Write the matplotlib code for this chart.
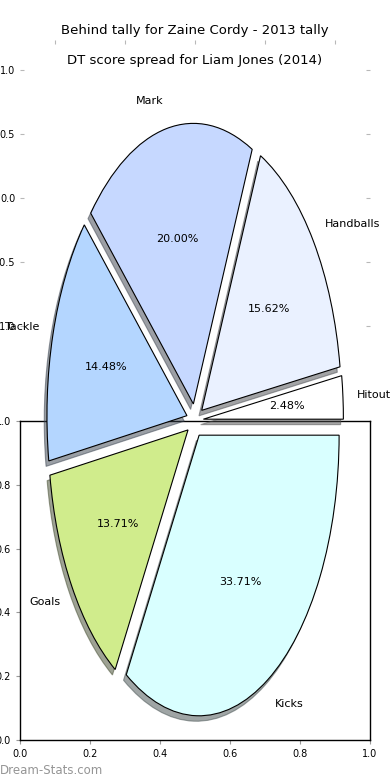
import matplotlib
matplotlib.use("Agg")
import matplotlib.pyplot as plt
import numpy as np

# data
labels = ['Hitout', 'Handballs', 'Mark', 'Tackle', 'Goals', 'Kicks']
shares = [2.48, 15.62, 20.00, 14.48, 13.71, 33.71]
colours = ['#ffffff', '#eaf1ff', '#c6d8ff', '#b4d6ff', '#d0ec8c', '#d9ffff']
explode = [0.06] * len(labels)

back_title = 'Behind tally for Zaine Cordy - 2013 tally'
pie_title = 'DT score spread for Liam Jones (2014)'
half_ticks = [-1.0, -0.5, 0.0, 0.5, 1.0]
unit_ticks = [0.0, 0.2, 0.4, 0.6, 0.8, 1.0]

W, H = 390, 780


def box(l, t, r, b):
    # pixel box -> figure fraction rect
    return [l / W, 1 - b / H, (r - l) / W, (b - t) / H]


fig = plt.figure(figsize=(W / 100, H / 100), dpi=100)
grey = '#b8b8b8'

# leftover axes from the earlier chart
ax_a = fig.add_axes(box(20, 40, 370, 700))
ax_a.set_frame_on(False)
ax_a.set_xlim(-1.25, 1.25)
ax_a.set_xticks(half_ticks)
ax_a.set_yticks([])
ax_a.tick_params(axis='x', top=True, bottom=False, labeltop=False, labelbottom=False,
                 color=grey, length=3, direction='in')
ax_a.set_title(back_title, fontsize=9.5, pad=4)

# axes holding the title of the current chart
ax_b = fig.add_axes(box(20, 70, 370, 326))
ax_b.set_frame_on(False)
ax_b.set_ylim(-1, 1)
ax_b.set_yticks(half_ticks)
ax_b.set_xticks([])
ax_b.tick_params(axis='y', left=True, right=True, labelsize=7, color=grey,
                 length=3, direction='in')
ax_b.set_title(pie_title, fontsize=9.5, pad=4)

# plain unit axes below
ax_c = fig.add_axes(box(20, 421, 370, 740))
ax_c.set_xlim(0, 1)
ax_c.set_ylim(0, 1)
ax_c.set_xticks(unit_ticks)
ax_c.set_yticks(unit_ticks)
ax_c.tick_params(labelsize=7, color='#999999', length=3)
for s in ax_c.spines.values():
    s.set_color('black')
    s.set_linewidth(1)

# the pie on top
ax_d = fig.add_axes(box(20, 69.75, 370, 771.25))
ax_d.patch.set_alpha(0)
ax_d.pie(shares, labels=labels, colors=colours, explode=explode, autopct='%1.2f%%',
         shadow={'ox': -0.014, 'oy': -0.014}, startangle=0, textprops={'fontsize': 8},
         wedgeprops={'edgecolor': 'black', 'linewidth': 0.8})
ax_d.set_aspect('auto')
ax_d.set_xlim(-1.25, 1.25)
ax_d.set_ylim(-1.25, 1.25)
ax_d.axis('off')

fig.text(0.0, 10 / H, 'Dream-Stats.com', fontsize=8.5, color='#959595', va='center', ha='left')

fig.savefig('out.png', dpi=100)
